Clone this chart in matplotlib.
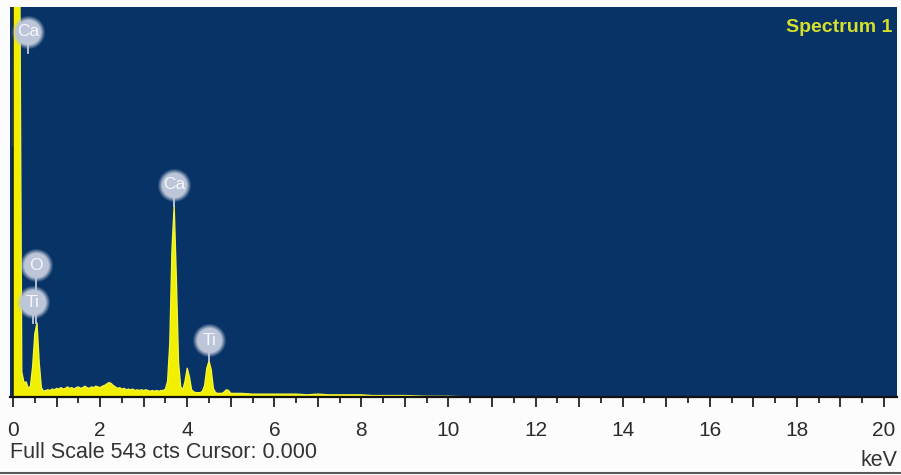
import matplotlib
matplotlib.use("Agg")
import matplotlib.pyplot as plt
from matplotlib.lines import Line2D
import numpy as np

plt.rcParams["font.family"] = ["Liberation Sans", "DejaVu Sans"]

# ---- spectrum (keV, counts) ----
energy_kev = [
    0.00, 0.05, 0.10, 0.15, 0.20, 0.25, 0.30, 0.35, 0.40, 0.45,
    0.50, 0.55, 0.60, 0.65, 0.70, 0.75, 0.80, 0.85, 0.90, 0.95,
    1.00, 1.05, 1.10, 1.15, 1.20, 1.25, 1.30, 1.35, 1.40, 1.45,
    1.50, 1.55, 1.60, 1.65, 1.70, 1.75, 1.80, 1.85, 1.90, 1.95,
    2.00, 2.05, 2.10, 2.15, 2.20, 2.25, 2.30, 2.35, 2.40, 2.45,
    2.50, 2.55, 2.60, 2.65, 2.70, 2.75, 2.80, 2.85, 2.90, 2.95,
    3.00, 3.05, 3.10, 3.15, 3.20, 3.25, 3.30, 3.35, 3.40, 3.45,
    3.50, 3.55, 3.60, 3.65, 3.70, 3.75, 3.80, 3.85, 3.90, 3.95,
    4.00, 4.05, 4.10, 4.15, 4.20, 4.25, 4.30, 4.35, 4.40, 4.45,
    4.50, 4.55, 4.60, 4.65, 4.70, 4.75, 4.80, 4.85, 4.90, 4.95,
    5.00, 5.05, 5.10, 5.15,
    5.25, 5.50, 5.75, 6.00, 6.25, 6.50, 6.75, 7.00, 7.25, 7.50,
    7.75, 8.00, 8.25, 8.50, 8.75, 9.00, 9.50, 10.00, 10.50, 20.00,
]
counts = [
    350, 1400, 1600, 650, 35, 20, 21, 12, 15, 42,
    88, 103, 48, 13, 8, 9, 10, 9, 11, 10,
    12, 11, 13, 11, 12, 14, 12, 13, 11, 13,
    14, 12, 13, 15, 13, 12, 14, 13, 15, 14,
    13, 15, 16, 18, 20, 19, 16, 14, 12, 13,
    11, 12, 10, 11, 10, 11, 9, 10, 9, 10,
    9, 10, 9, 8, 9, 8, 9, 8, 9, 9,
    11, 22, 75, 205, 266, 165, 48, 14, 10, 22,
    40, 28, 10, 7, 6, 6, 6, 8, 16, 40,
    50, 38, 12, 6, 5, 5, 5, 7, 10, 9,
    5, 5, 5, 5,
    5, 4, 4, 4, 4, 4, 3, 4, 3, 3,
    3, 3, 2, 2, 2, 2, 1, 1, 0, 0,
]

full_scale = 543
cursor_kev = 0.0
spectrum_name = "Spectrum 1"

# identified lines: element label and line energy (keV)
line_labels = ["Ca", "Ti", "O", "Ca", "Ti"]
line_energies = [0.341, 0.452, 0.525, 3.692, 4.511]

tick_values = list(range(0, 21))
tick_labels = [str(v) if v % 2 == 0 else "" for v in tick_values]

# ---- figure ----
W, H = 901, 475
fig = plt.figure(figsize=(W / 100, H / 100), dpi=100)
fig.patch.set_facecolor("#fcfcfc")

ax = fig.add_axes([10 / W, 78 / H, 887 / W, 390 / H])
ax.set_facecolor("#083366")
ax.set_xlim(-0.07, 20.3)
ax.set_ylim(0, full_scale)

ax.fill_between(energy_kev, counts, 0, color="#f0f000", lw=0, zorder=2)
ax.plot(energy_kev, counts, color="#f4f43a", lw=1.0, zorder=2)

ax.axvline(cursor_kev, color="#1c1c1c", lw=1.1, zorder=3)

for side in ("top", "right", "left"):
    ax.spines[side].set_visible(False)
ax.spines["bottom"].set_color("#111111")
ax.spines["bottom"].set_linewidth(1.6)
ax.spines["bottom"].set_zorder(4)

ax.set_yticks([])
ax.set_xticks(tick_values)
ax.set_xticklabels(tick_labels)
ax.set_xticks(np.array(tick_values[:-1]) + 0.5, minor=True)
ax.tick_params(axis="x", which="major", length=7, width=1.3, color="#222222",
               labelsize=15, labelcolor="#2b2b2b", pad=10)
ax.tick_params(axis="x", which="minor", length=4, width=1.3, color="#222222")

ax.text(0.9944, 0.947, spectrum_name, transform=ax.transAxes, ha="right",
        va="center", fontsize=14, fontweight="bold", color="#d6e02a")

fig.text(10 / W, 1 - 452 / H, f"Full Scale {full_scale} cts Cursor: {cursor_kev:.3f}",
         ha="left", va="center", fontsize=15.5, color="#333333")
fig.text(898 / W, 1 - 461 / H, "keV", ha="right", va="center",
         fontsize=15.5, color="#333333")

fig.add_artist(Line2D([0, 1], [2 / H, 2 / H], transform=fig.transFigure,
                      color="#5a5a5a", lw=1.5))

# ---- element badges ----
fig.canvas.draw()
px_h = ax.get_window_extent().height
cpp = full_scale / px_h  # counts per pixel
e_arr = np.array(energy_kev)
c_arr = np.array(counts)

badge_r = 13.0
# soft, fuzzy disc: stacked translucent layers from the rim inward
layers = [(16.5, 0.18), (15.5, 0.25), (14.5, 0.35), (13.5, 0.55), (12.5, 1.0)]
stack = {}
for label, e in zip(line_labels, line_energies):
    window = (e_arr >= e - 0.2) & (e_arr <= e + 0.2)
    peak = c_arr[window].max()
    if peak >= full_scale:
        cy = full_scale - 25 * cpp
        stem = (cy - badge_r * cpp, cy - (badge_r + 8) * cpp)
    else:
        key = round(float(peak), 3)
        level = stack.get(key, 0)
        stack[key] = level + 1
        cy = peak + (21 + 37 * level) * cpp
        stem = (cy - badge_r * cpp, peak)
    ax.plot([e, e], stem, color="#c3cbd9", lw=1.3, zorder=5, clip_on=False)
    for r, a in layers:
        ax.scatter([e], [cy], s=(2 * r * 72 / 100) ** 2, color="#bcc6d8",
                   alpha=a, lw=0, zorder=6, clip_on=False)
    ax.text(e, cy, label, ha="center", va="center", fontsize=12.5,
            color="#f4f6fa", zorder=8)

fig.savefig("out.png", dpi=100, facecolor=fig.get_facecolor())
